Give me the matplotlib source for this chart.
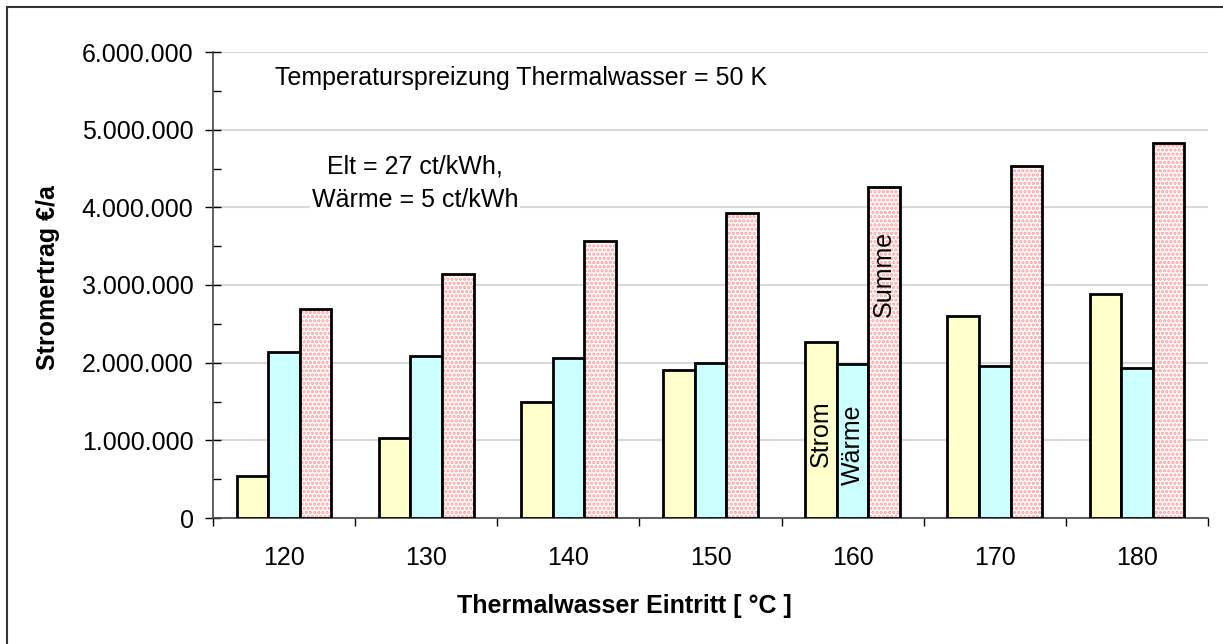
import numpy as np
import matplotlib
matplotlib.use("Agg")
import matplotlib.pyplot as plt
from matplotlib.ticker import FixedLocator, FuncFormatter, MultipleLocator
from matplotlib.patches import Rectangle

plt.rcParams["font.family"] = ["Liberation Sans", "DejaVu Sans"]
plt.rcParams["hatch.linewidth"] = 1.6

temps = ["120", "130", "140", "150", "160", "170", "180"]
strom = [545000, 1034000, 1493000, 1905000, 2270000, 2605000, 2884000]
waerme = [2140000, 2086000, 2064000, 1996000, 1987000, 1961000, 1935000]
summe = [2685000, 3140000, 3565000, 3925000, 4258000, 4536000, 4824000]

fs = 18

fig = plt.figure(figsize=(12.23, 6.44), dpi=100)
ax = fig.add_axes([213 / 1223, 1 - 518 / 644, 995 / 1223, 466 / 644])

x = np.arange(len(temps))
w = 0.222

ax.bar(x - w, strom, w, color="#FFFFCC", edgecolor="black", linewidth=2, zorder=3)
ax.bar(x, waerme, w, color="#CCFFFF", edgecolor="black", linewidth=2, zorder=3)
ax.bar(x + w, summe, w, color="white", edgecolor="#FF9C9C", hatch="....", linewidth=0, zorder=3)
ax.bar(x + w, summe, w, color="none", edgecolor="black", linewidth=2, zorder=4)

ax.set_xlim(-0.5, len(temps) - 0.5)
ax.set_ylim(0, 6000000)

ax.yaxis.set_major_locator(MultipleLocator(1000000))
ax.yaxis.set_minor_locator(MultipleLocator(500000))
ax.yaxis.set_major_formatter(FuncFormatter(lambda v, p: f"{int(v):,}".replace(",", ".")))
ax.tick_params(axis="y", which="major", direction="inout", length=12, width=1, labelsize=fs, pad=8)
ax.tick_params(axis="y", which="minor", direction="in", length=6, width=1)

ax.xaxis.set_major_locator(FixedLocator(np.arange(-0.5, len(temps), 1)))
ax.xaxis.set_major_formatter(FuncFormatter(lambda v, p: ""))
ax.xaxis.set_minor_locator(FixedLocator(x))
ax.set_xticklabels(temps, minor=True)
ax.tick_params(axis="x", which="major", direction="out", length=6, width=1)
ax.tick_params(axis="x", which="minor", direction="in", length=5, width=1, labelsize=fs, pad=20)

ax.grid(axis="y", which="major", color="#D9D9D9", linewidth=1.5, zorder=0)
ax.set_axisbelow(True)

for s in ["top", "right"]:
    ax.spines[s].set_visible(False)
for s in ["left", "bottom"]:
    ax.spines[s].set_color("#444444")
    ax.spines[s].set_linewidth(1.2)

fig.text(48 / 1223, 1 - 278 / 644, "Stromertrag €/a", fontsize=fs, fontweight="bold",
         rotation=90, ha="center", va="center")
fig.text(624 / 1223, 1 - 606 / 644, "Thermalwasser Eintritt [ °C ]", fontsize=fs,
         fontweight="bold", ha="center", va="center")

ax.text(0.062, 0.945, "Temperaturspreizung Thermalwasser = 50 K", transform=ax.transAxes,
        fontsize=fs, ha="left", va="center")
ax.text(0.92, 4530000, "Elt = 27 ct/kWh,", fontsize=fs, ha="center", va="center")
ax.text(0.92, 4090000, "Wärme = 5 ct/kWh", fontsize=fs, ha="center", va="center",
        bbox=dict(facecolor="white", edgecolor="none", pad=1))

ax.text(4 - w, 660000, "Strom", rotation=90, fontsize=fs, ha="center", va="bottom", zorder=5)
ax.text(4, 425000, "Wärme", rotation=90, fontsize=fs, ha="center", va="bottom", zorder=5)
ax.text(4 + w, 2590000, "Summe", rotation=90, fontsize=fs, ha="center", va="bottom", zorder=5)

fig.patches.append(Rectangle((7 / 1223, -0.05), 1.1, 1 - 7 / 644 + 0.05, transform=fig.transFigure,
                             fill=False, edgecolor="#333333", linewidth=1.5))

fig.savefig("out.png", dpi=100)
